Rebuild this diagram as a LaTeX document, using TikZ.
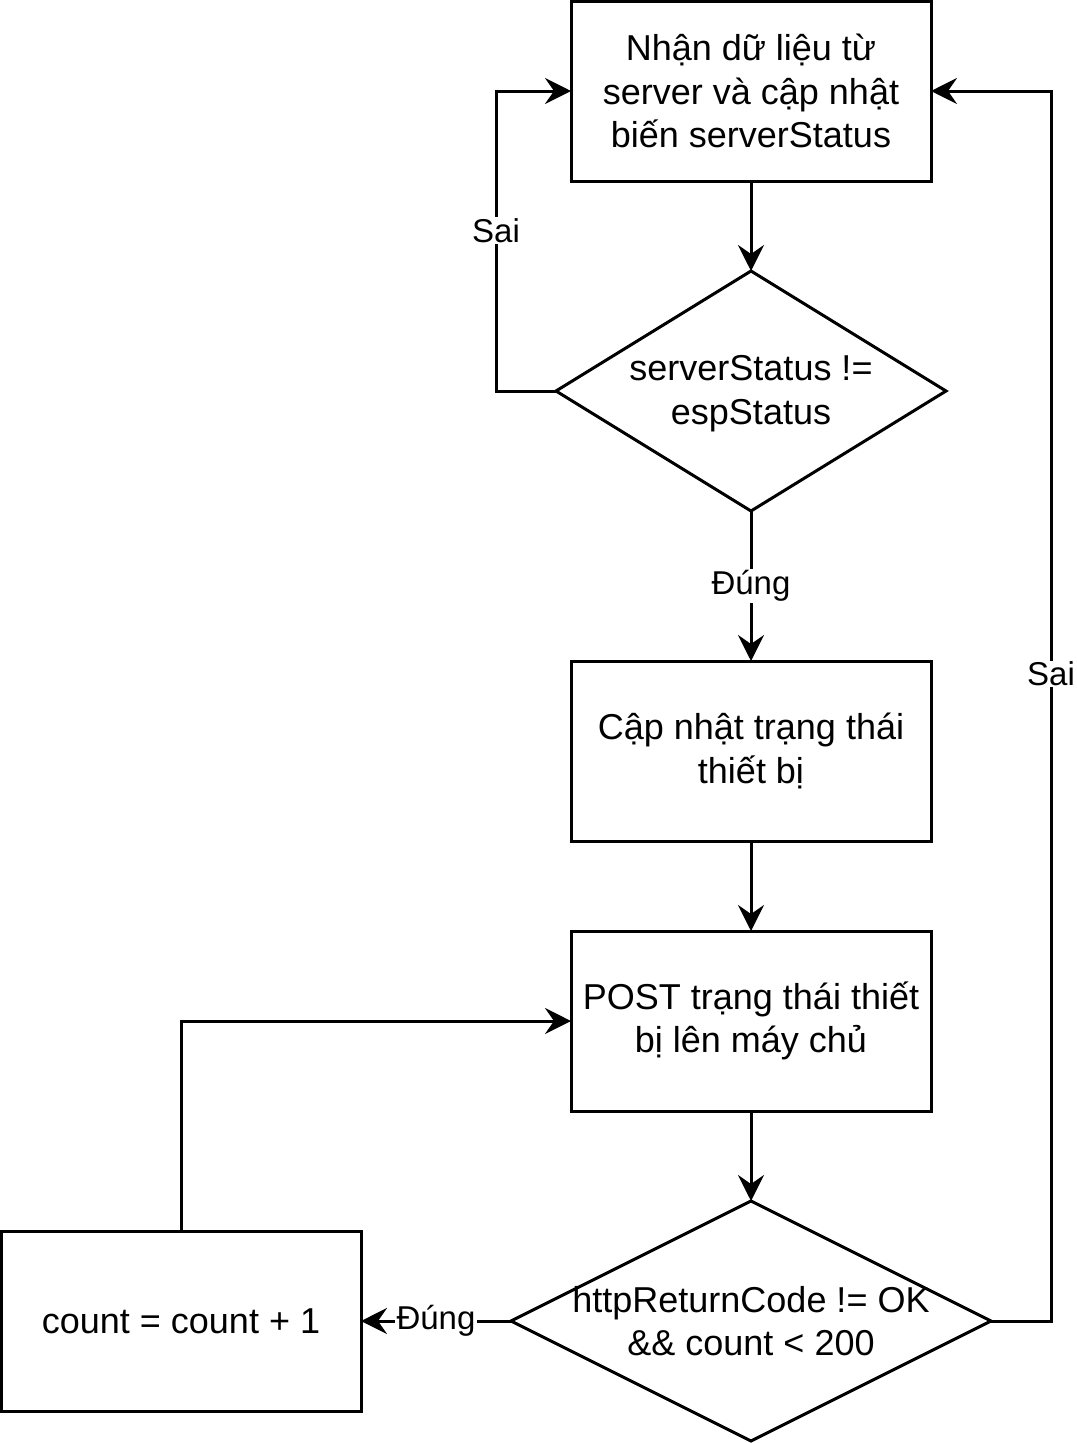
\documentclass[tikz,border=0pt]{standalone}
\usepackage{fontspec}
\setmainfont{Liberation Sans}
\usetikzlibrary{arrows.meta, positioning, shapes.geometric}

\begin{document}
\begin{tikzpicture}[
    line width=2.25pt,
    every node/.style={font=\fontsize{27}{32.4}\selectfont, outer sep=0pt},
    box/.style={rectangle, draw, minimum width=270pt, minimum height=135pt, align=center},
    decision/.style={diamond, draw, inner sep=0pt, minimum height=180pt},
    dtext/.style={align=center},
    edgelabel/.style={fill=white, inner sep=1pt, font=\fontsize{24.75}{29.7}\selectfont},
    >={Stealth[length=19.5pt, width=19.5pt, inset=6.75pt]},
]
\useasboundingbox (0,0) rectangle (807.75pt,-1082.25pt);

\node[box] (recv) at (563.25pt,-68.25pt) {Nhận dữ liệu từ\\server và cập nhật\\biến serverStatus};
\node[decision, minimum width=292.5pt, below=67.5pt of recv] (chk1) {};
\node[dtext] (chk1txt) at ([yshift=-2pt]chk1.center) {serverStatus !=\\espStatus};
\node[box, below=112.5pt of chk1] (upd) {Cập nhật trạng thái\\thiết bị};
\node[box, below=67.5pt of upd] (post) {POST trạng thái thiết\\bị lên máy chủ};
\node[decision, minimum width=360pt, below=67.5pt of post] (chk2) {};
\node[dtext] (chk2txt) at (chk2) {httpReturnCode != OK\\\&\& count < 200};
\node[box, left=112.5pt of chk2] (cnt) {count = count + 1};

\draw[->] (recv) -- (chk1);
\draw[->] (chk1.west) -- ++(-45pt,0) |- node[edgelabel, pos=0.267] {Sai} (recv.west);
\draw[->] (chk1) -- node[edgelabel] {Đúng} (upd);
\draw[->] (upd) -- (post);
\draw[->] (post) -- (chk2);
\draw[->] (chk2.west) -- node[edgelabel] {Đúng} (cnt.east);
\draw[->] (cnt.north) |- (post.west);
\draw[->] (chk2.east) -- ++(45pt,0) |- node[edgelabel, pos=0.263] {Sai} (recv.east);
\end{tikzpicture}
\end{document}
